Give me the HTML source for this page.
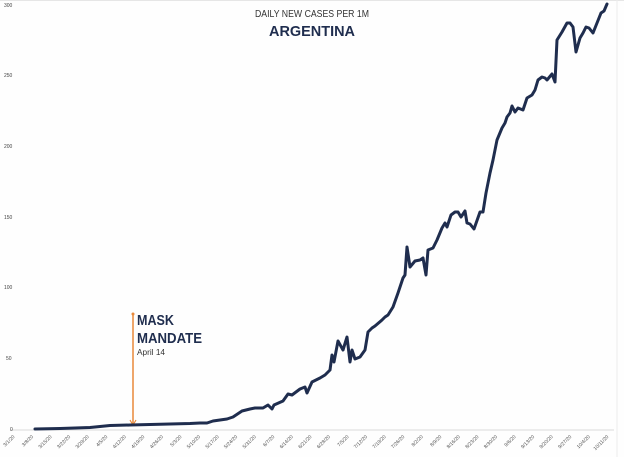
<!DOCTYPE html>
<html><head><meta charset="utf-8"><style>
html,body{margin:0;padding:0;background:#fff;}
svg{display:block;font-family:"Liberation Sans",sans-serif;}
</style></head><body>
<svg width="624" height="457" viewBox="0 0 624 457" xmlns="http://www.w3.org/2000/svg">
<rect x="0" y="0" width="624" height="457" fill="#fefefe"/>
<line x1="0" y1="0.5" x2="624" y2="0.5" stroke="#e6e6e6"/>
<line x1="617" y1="0" x2="617" y2="457" stroke="#ececec"/>
<line x1="10" y1="430" x2="614" y2="430" stroke="#d9d9d9" stroke-width="1"/>
<g font-size="5" fill="#444" text-anchor="start">
<text x="4" y="7">300</text>
<text x="4" y="77">250</text>
<text x="4" y="148">200</text>
<text x="4" y="219">150</text>
<text x="4" y="289">100</text>
<text x="6" y="360">50</text>
<text x="10" y="431">0</text>
</g>
<text x="312" y="17" font-size="10" fill="#333" text-anchor="middle" textLength="114" lengthAdjust="spacingAndGlyphs">DAILY NEW CASES PER 1M</text>
<text x="312" y="36" font-size="15" font-weight="bold" fill="#1f2d4e" text-anchor="middle" textLength="86" lengthAdjust="spacingAndGlyphs">ARGENTINA</text>
<g font-size="5" fill="#555" text-anchor="end">
<text transform="translate(15,437) rotate(-45)">3/1/20</text>
<text transform="translate(33.6,437) rotate(-45)">3/8/20</text>
<text transform="translate(52.1,437) rotate(-45)">3/15/20</text>
<text transform="translate(70.7,437) rotate(-45)">3/22/20</text>
<text transform="translate(89.2,437) rotate(-45)">3/29/20</text>
<text transform="translate(107.8,437) rotate(-45)">4/5/20</text>
<text transform="translate(126.4,437) rotate(-45)">4/12/20</text>
<text transform="translate(144.9,437) rotate(-45)">4/19/20</text>
<text transform="translate(163.5,437) rotate(-45)">4/26/20</text>
<text transform="translate(182,437) rotate(-45)">5/3/20</text>
<text transform="translate(200.6,437) rotate(-45)">5/10/20</text>
<text transform="translate(219.2,437) rotate(-45)">5/17/20</text>
<text transform="translate(237.7,437) rotate(-45)">5/24/20</text>
<text transform="translate(256.3,437) rotate(-45)">5/31/20</text>
<text transform="translate(274.8,437) rotate(-45)">6/7/20</text>
<text transform="translate(293.4,437) rotate(-45)">6/14/20</text>
<text transform="translate(312,437) rotate(-45)">6/21/20</text>
<text transform="translate(330.5,437) rotate(-45)">6/28/20</text>
<text transform="translate(349.1,437) rotate(-45)">7/5/20</text>
<text transform="translate(367.6,437) rotate(-45)">7/12/20</text>
<text transform="translate(386.2,437) rotate(-45)">7/19/20</text>
<text transform="translate(404.8,437) rotate(-45)">7/26/20</text>
<text transform="translate(423.3,437) rotate(-45)">8/2/20</text>
<text transform="translate(441.9,437) rotate(-45)">8/9/20</text>
<text transform="translate(460.4,437) rotate(-45)">8/16/20</text>
<text transform="translate(479,437) rotate(-45)">8/23/20</text>
<text transform="translate(497.6,437) rotate(-45)">8/30/20</text>
<text transform="translate(516.1,437) rotate(-45)">9/6/20</text>
<text transform="translate(534.7,437) rotate(-45)">9/13/20</text>
<text transform="translate(553.2,437) rotate(-45)">9/20/20</text>
<text transform="translate(571.8,437) rotate(-45)">9/27/20</text>
<text transform="translate(590.4,437) rotate(-45)">10/4/20</text>
<text transform="translate(608.9,437) rotate(-45)">10/11/20</text>
</g>
<line x1="133" y1="313" x2="133" y2="424" stroke="#e8893a" stroke-width="1.5"/>
<circle cx="133" cy="314" r="1.5" fill="#e8893a"/>
<path d="M130,420 L133,425 L136,420" fill="none" stroke="#e8893a" stroke-width="1.2"/>
<text x="137" y="325" font-size="15" font-weight="bold" fill="#1f2d4e" textLength="37" lengthAdjust="spacingAndGlyphs">MASK</text>
<text x="137" y="343" font-size="15" font-weight="bold" fill="#1f2d4e" textLength="65" lengthAdjust="spacingAndGlyphs">MANDATE</text>
<text x="137" y="355" font-size="8" fill="#333" textLength="28" lengthAdjust="spacingAndGlyphs">April 14</text>
<polyline fill="none" stroke="#1f2d4e" stroke-width="3" stroke-linejoin="round" stroke-linecap="round" points="
35,429 60,428.5 90,427.5 100,426.5 110,425.5 130,425 150,424.5 170,424 190,423.5 200,423 207,423 213,421 227,419 233,417 242,411 250,409 255,408 263,408 268,405 272,409 274,405 283,401 288,394 292,395 300,389 305,387 307,393 312,382 320,378 325,375 330,370 332,355 334,362 338,341 343,350 347,337 350,362 352,350 355,359 360,357 365,350 368,332 372,328 375,326 382,320 385,317 388,315 393,307 398,293 403,278 405,275 407,247 410,267 415,261 420,260 423,258 426,275 428,250 433,248 437,240 442,228 445,223 447,227 451,215 455,212 458,212 461,217 465,211 467,223 470,224 474,229 480,212 483,212 486,193 490,173 493,160 497,140 502,128 505,123 507,117 510,113 512,106 515,112 518,108 523,110 527,98 532,95 535,90 538,80 542,77 545,78 547,80 552,74 555,82 557,40 562,32 567,23 570,23 573,27 576,52 580,38 583,33 586,27 589,28 593,33 601,13 604,11 607,4"/>
</svg>
</body></html>
